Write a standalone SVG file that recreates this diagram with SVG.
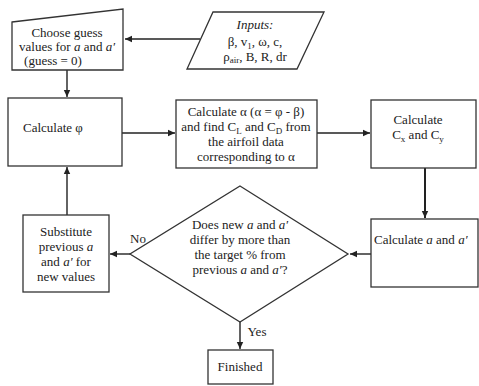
<svg xmlns="http://www.w3.org/2000/svg" width="479" height="386" viewBox="0 0 479 386">
<defs>
<style>
.b{fill:#fff;stroke:#333;stroke-width:1.3}
.c{fill:none;stroke:#222;stroke-width:1.4}
text{font-family:"Liberation Serif","Times New Roman",serif;font-size:13px;fill:#222}
.m{text-anchor:middle}
.s{font-size:9px}
.i{font-style:italic}
</style>
<marker id="ah" markerWidth="8" markerHeight="8" refX="7" refY="4" orient="auto" markerUnits="userSpaceOnUse">
<path d="M0,0.8 L7,4 L0,7.2 z" fill="#222"/>
</marker>
</defs>
<rect width="479" height="386" fill="#fff"/>
<g id="connectors">
<line class="c" x1="200" y1="39" x2="125" y2="39" marker-end="url(#ah)"/>
<line class="c" x1="67" y1="70" x2="67" y2="97" marker-end="url(#ah)"/>
<line class="c" x1="122" y1="133" x2="175" y2="133" marker-end="url(#ah)"/>
<line class="c" x1="317" y1="133" x2="370" y2="133" marker-end="url(#ah)"/>
<line class="c" x1="425" y1="168" x2="425" y2="218" marker-end="url(#ah)" style="stroke-width:2"/>
<line class="c" x1="371" y1="254" x2="350" y2="254" marker-end="url(#ah)"/>
<line class="c" x1="130" y1="254" x2="110" y2="254" marker-end="url(#ah)"/>
<line class="c" x1="67" y1="215" x2="67" y2="167" marker-end="url(#ah)"/>
<line class="c" x1="240" y1="322" x2="240" y2="349" marker-end="url(#ah)"/>
<text x="138" y="243" class="m">No</text>
<text x="257" y="336" class="m">Yes</text>
</g>
<g id="choose">
<path class="b" d="M12,22 L123,9 L123,70 L12,70 Z"/>
<text x="67" y="37" class="m">Choose guess</text>
<text x="67" y="51" class="m">values for <tspan class="i">a</tspan> and <tspan class="i">a′</tspan></text>
<text x="53" y="65" class="m">(guess = 0)</text>
</g>
<g id="inputs">
<path class="b" d="M213,12 L324,12 L297,69 L187,69 Z"/>
<text x="255" y="29" class="m i">Inputs:</text>
<text x="255" y="46" class="m">β, v<tspan class="s" baseline-shift="-3">1</tspan>, ω, c,</text>
<text x="255" y="61" class="m">ρ<tspan class="s" baseline-shift="-2">air</tspan>, B, R, dr</text>
</g>
<g id="phi">
<rect class="b" x="8" y="98" width="114" height="68"/>
<text x="23" y="132">Calculate φ</text>
</g>
<g id="alpha">
<rect class="b" x="176" y="100" width="141" height="68"/>
<text x="246" y="116" class="m">Calculate α (α = φ - β)</text>
<text x="246" y="131" class="m">and find C<tspan class="s" baseline-shift="-3">L</tspan> and C<tspan class="s" baseline-shift="-3">D</tspan> from</text>
<text x="246" y="146" class="m">the airfoil data</text>
<text x="246" y="161" class="m">corresponding to α</text>
</g>
<g id="cxcy">
<rect class="b" x="371" y="100" width="105" height="68"/>
<text x="418" y="124" class="m">Calculate</text>
<text x="418" y="139" class="m">C<tspan class="s" baseline-shift="-3">x</tspan> and C<tspan class="s" baseline-shift="-3">y</tspan></text>
</g>
<g id="calca">
<rect class="b" x="371" y="219" width="107" height="68"/>
<text x="374" y="244">Calculate <tspan class="i">a</tspan> and <tspan class="i">a′</tspan></text>
</g>
<g id="decision">
<path class="b" d="M240,186 L348,254 L240,322 L130,254 Z"/>
<text x="240" y="229" class="m">Does new <tspan class="i">a</tspan> and <tspan class="i">a′</tspan></text>
<text x="240" y="244" class="m">differ by more than</text>
<text x="240" y="259" class="m">the target % from</text>
<text x="240" y="274" class="m">previous <tspan class="i">a</tspan> and <tspan class="i">a′</tspan>?</text>
</g>
<g id="substitute">
<rect class="b" x="23" y="215" width="86" height="77"/>
<text x="66" y="236" class="m">Substitute</text>
<text x="66" y="251" class="m">previous <tspan class="i">a</tspan></text>
<text x="66" y="266" class="m">and <tspan class="i">a′</tspan> for</text>
<text x="66" y="281" class="m">new values</text>
</g>
<g id="finished">
<rect class="b" x="208" y="350" width="65" height="34"/>
<text x="240" y="371" class="m">Finished</text>
</g>
</svg>
